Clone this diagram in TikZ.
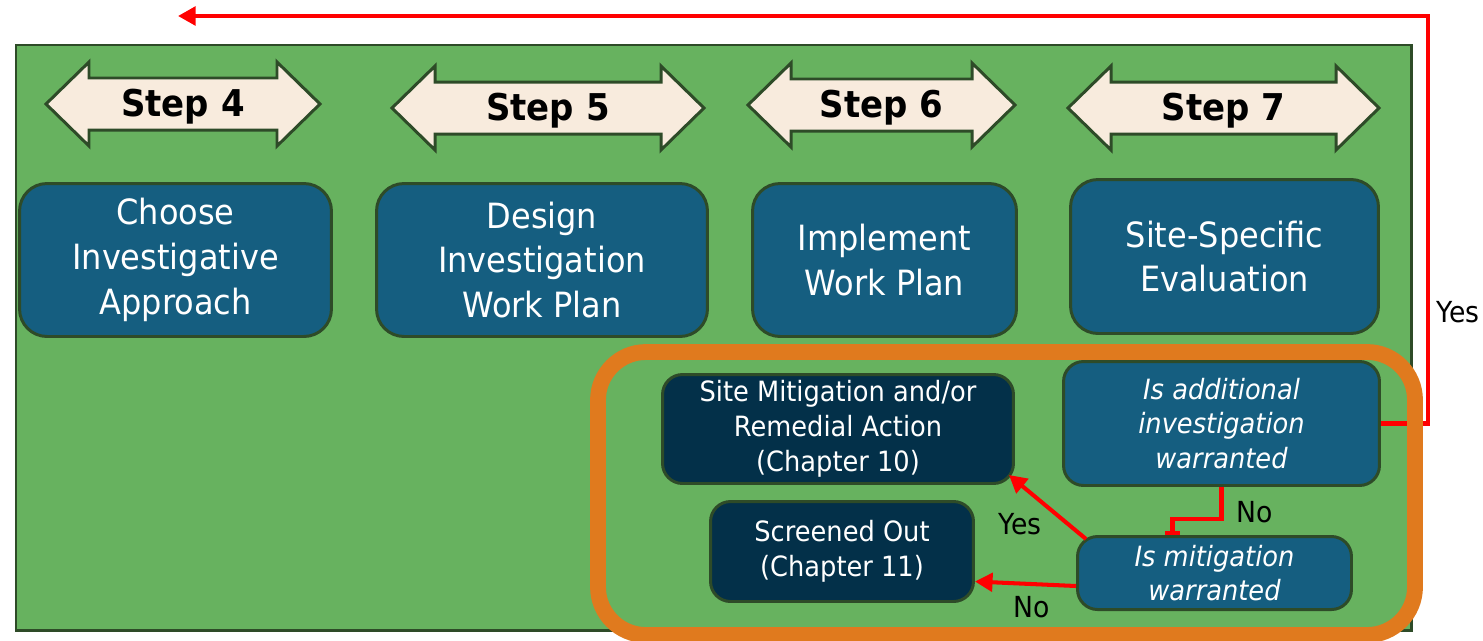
\documentclass[tikz,border=0pt]{standalone}
\usepackage{fontspec}
\setmainfont{DejaVu Sans}[FakeStretch=0.92]
\usetikzlibrary{arrows.meta,calc}
\definecolor{boxgreen}{HTML}{67B25F}
\definecolor{darkrim}{HTML}{2E4B28}
\definecolor{stepcream}{HTML}{F8EBDD}
\definecolor{bluebox}{HTML}{155E80}
\definecolor{navybox}{HTML}{033049}
\definecolor{frameorange}{HTML}{E07A1E}
\definecolor{loopred}{HTML}{FF0000}

\begin{document}
\begin{tikzpicture}[x=0.02cm,y=-0.02cm,>={Triangle[length=10pt,width=10.5pt]},
    bigbox/.style={draw=darkrim,line width=1.7pt,fill=bluebox,rounded corners=0.55cm,
        text=white,align=center,font=\fontsize{19.8}{25.5}\selectfont},
    smallbox/.style={draw=darkrim,line width=1.7pt,rounded corners=0.4cm,
        text=white,align=center,font=\fontsize{15.9}{19.8}\selectfont},
    steparrow/.style={draw=darkrim,line width=1.7pt,fill=stepcream},
    redline/.style={draw=loopred,line width=2.3pt},
    answer/.style={font=\fontsize{16.5}{19}\selectfont}]
    \useasboundingbox (0,0) rectangle (1483,640);
    % green background
    \draw[draw=darkrim,line width=1.7pt,fill=boxgreen] (16,45) rectangle (1411,630);
    % the step arrows
    \foreach \n/\xa/\xb/\yc in {4/46/320/104, 5/392/704/108, 6/748/1015/105, 7/1068/1379/108} {
        \draw[steparrow] (\xa,\yc) -- (\xa+43,\yc-42) -- (\xa+43,\yc-26) -- (\xb-43,\yc-26)
            -- (\xb-43,\yc-42) -- (\xb,\yc) -- (\xb-43,\yc+42) -- (\xb-43,\yc+26)
            -- (\xa+43,\yc+26) -- (\xa+43,\yc+42) -- cycle;
        \node[font=\bfseries\fontsize{21}{25}\selectfont] (step\n) at ({(\xa+\xb)/2},\yc+3) {Step \n};
    }
    % the four task boxes
    \node[bigbox,minimum width=6.24cm,minimum height=3.06cm] (choose) at (175.5,260)
        {Choose\\Investigative\\Approach};
    \node[bigbox,minimum width=6.62cm,minimum height=3.06cm] (design) at (542,260)
        {Design\\Investigation\\Work Plan};
    \node[bigbox,minimum width=5.28cm,minimum height=3.06cm] (implement) at (884.5,260)
        {Implement\\Work Plan};
    \node[bigbox,minimum width=6.16cm,minimum height=3.08cm] (evaluate) at (1224.5,256.5)
        {Site-Specific\\Evaluation};
    % loop back when more investigation is needed
    \coordinate (loopTop) at (1428,16);
    \coordinate (loopEnd) at (178,16);
    \node[smallbox,fill=bluebox,minimum width=6.32cm,minimum height=2.48cm] (ia) at (1221.5,423.5)
        {\itshape Is additional\\\itshape investigation\\\itshape warranted};
    \draw[redline,->] (ia.east) -| (loopTop) -- (loopEnd);
    \node[answer] (yesLoop) at (1458,312) {Yes};
    % orange frame round the decision
    \draw[draw=frameorange,line width=9pt,rounded corners=0.96cm] (598,352) rectangle (1415,635);
    \node[smallbox,fill=bluebox,minimum width=5.48cm,minimum height=1.46cm] (im) at (1214.5,573)
        {\itshape Is mitigation\\\itshape warranted};
    \node[smallbox,fill=navybox,minimum width=7.02cm,minimum height=2.18cm] (sm) at (838,429)
        {Site Mitigation and/or\\Remedial Action\\(Chapter 10)};
    \node[smallbox,fill=navybox,minimum width=5.26cm,minimum height=2.0cm] (so) at (842,551.5)
        {Screened Out\\(Chapter 11)};
    % answers
    \draw[redline,-{Bar[width=8.5pt]}] (ia.south) -- ++(0,32) -| ($(im.north)+(-42,0)$);
    \node[answer] (noIa) at (1255,512) {No};
    \draw[redline,->] ($(im.north west)+(10,4)$) -- ($(sm.south east)+(-6,-10)$);
    \node[answer] (yesIm) at (1020,524) {Yes};
    \draw[redline,->] ($(im.west)+(0,13)$) -- ($(so.east)+(0,30)$);
    \node[answer] (noIm) at (1032,607) {No};
\end{tikzpicture}
\end{document}
